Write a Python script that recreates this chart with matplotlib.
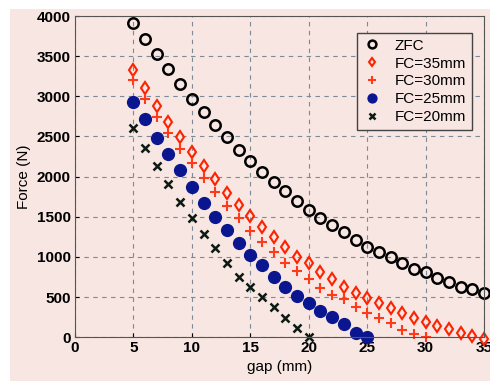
import matplotlib
matplotlib.use("Agg")
from matplotlib import pyplot as plt
from matplotlib.patches import Rectangle

# gap (mm) values for each series
gap_zfc = list(range(5, 36))
gap_fc35 = list(range(5, 36))
gap_fc30 = list(range(5, 31))
gap_fc25 = list(range(5, 26))
gap_fc20 = list(range(5, 21))

# force (N) values
force_zfc = [3910, 3710, 3527, 3340, 3149, 2970, 2804, 2638, 2488, 2330,
             2200, 2060, 1935, 1819, 1698, 1583, 1490, 1396, 1305, 1209,
             1126, 1064, 1002, 918, 848, 815, 731, 690, 627, 594, 545]
force_fc35 = [3327, 3099, 2878, 2675, 2496, 2309, 2134, 1969, 1797, 1645,
              1508, 1375, 1250, 1125, 1000, 918, 814, 719, 627, 552,
              490, 420, 365, 295, 245, 191, 141, 100, 46, 16, -20]
force_fc30 = [3202, 2962, 2745, 2546, 2342, 2164, 1977, 1804, 1632, 1479,
              1325, 1180, 1055, 930, 826, 719, 614, 523, 470, 378,
              303, 233, 171, 87, 37, 0]
force_fc25 = [2932, 2712, 2483, 2280, 2081, 1873, 1673, 1491, 1333, 1175,
              1022, 897, 751, 627, 511, 420, 328, 253, 158, 54, 0]
force_fc20 = [2600, 2359, 2131, 1906, 1686, 1479, 1283, 1105, 918, 751,
              619, 495, 370, 245, 116, 0]

bg = "#f7e6e1"
plt.rcParams["font.family"] = ["Liberation Sans", "DejaVu Sans"]

fig = plt.figure(figsize=(4.9, 3.81), dpi=100, facecolor=bg)
fig.patches.append(Rectangle((0, 0), 10 / 490, 1, transform=fig.transFigure,
                             facecolor="white", edgecolor="none", zorder=0))
fig.patches.append(Rectangle((0, 1 - 9 / 381), 1, 9 / 381, transform=fig.transFigure,
                             facecolor="white", edgecolor="none", zorder=0))
ax = fig.add_axes([0.153, 0.115, 0.835, 0.843])
ax.set_facecolor(bg)

ax.plot(gap_zfc, force_zfc, "o", mfc="none", mec="black", mew=1.8, ms=7.5,
        label="ZFC", clip_on=False)
ax.plot(gap_fc35, force_fc35, "d", mfc="none", mec="#ff2200", mew=1.5, ms=6,
        label="FC=35mm", clip_on=False)
ax.plot(gap_fc30, force_fc30, "+", color="#ff3a1a", mew=1.5, ms=7,
        label="FC=30mm", clip_on=False)
ax.plot(gap_fc25, force_fc25, "o", mfc="#0a1690", mec="#0a1690", ms=8.5,
        label="FC=25mm", clip_on=False)
ax.plot(gap_fc20, force_fc20, "x", color="#0d1a14", mew=1.8, ms=5.5,
        label="FC=20mm", clip_on=False)

ax.set_xlim(0, 35)
ax.set_ylim(0, 4000)
ax.set_xticks(range(0, 36, 5))
ax.set_yticks(range(0, 4001, 500))
ax.grid(True, linestyle=(0, (4, 4)), color="#7c8a9a", linewidth=0.8)
ax.tick_params(direction="in", labelsize=11, length=3, pad=3)
for lbl in ax.get_xticklabels() + ax.get_yticklabels():
    lbl.set_fontweight("bold")
for sp in ax.spines.values():
    sp.set_color("#555555")

ax.set_xlabel("gap (mm)", fontsize=11, labelpad=3)
ax.set_ylabel("Force (N)", fontsize=11, labelpad=4)

leg = ax.legend(loc="upper right", fontsize=11, frameon=True, fancybox=False,
                borderpad=0.4, labelspacing=0.25, handletextpad=0.9,
                handlelength=1.2, markerscale=0.75,
                bbox_to_anchor=(0.99, 0.972))
leg.get_frame().set_edgecolor("#444444")
leg.get_frame().set_facecolor(bg)
leg.get_frame().set_alpha(1)

fig.savefig("out.png", dpi=100, facecolor=fig.get_facecolor())
